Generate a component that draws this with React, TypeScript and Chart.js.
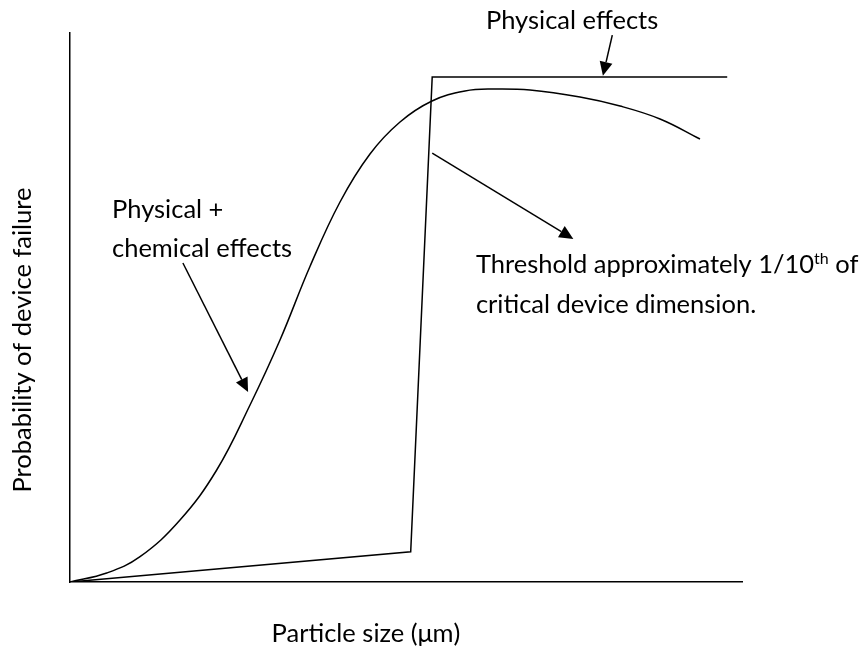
import React, { useEffect, useRef } from "react";
import { Chart, registerables } from "chart.js";

Chart.register(...registerables);

// Threshold (physical effects) curve, arbitrary units (x: particle size, y: probability)
const thresholdX = [0, 50.7, 53.9, 97.8];
const thresholdY = [0, 5.5, 92.0, 92.0];

// Physical + chemical effects curve
const chemX = [0, 5.46, 10.42, 16.37, 21.83, 26.79, 31.25, 35.71, 40.18, 44.64, 49.11, 53.87, 58.78, 62.95, 68.45, 75.89, 81.85, 87.8, 93.75];
const chemY = [0, 1.64, 4.61, 11.29, 20.4, 32.24, 44.08, 57.47, 69.22, 77.96, 83.79, 87.61, 89.44, 89.8, 89.62, 88.34, 86.7, 84.34, 80.69];

// Annotation arrows: [fromX, fromY, toX, toY]
const arrowPhysical = [80.7, 99.6, 79.3, 92.2];
const arrowThreshold = [53.9, 78.1, 74.9, 62.5];
const arrowChemical = [16.8, 58.1, 26.5, 34.6];

// Annotation texts and anchors (left, baseline) in data units
const labelTexts = ["Physical effects", "Physical +", "chemical effects", "critical device dimension."];
const labelX = [61.9, 6.25, 6.25, 60.4];
const labelY = [100.7, 66.3, 59.2, 49.0];
const thresholdLabel = ["Threshold approximately 1/10", "th", " of"];
const thresholdLabelPos = [60.4, 56.3];

const xTitle = "Particle size (μm)";
const yTitle = "Probability of device failure";

const FONT = "Lato, 'Open Sans', sans-serif";
const FS = 25.5;

export default function App() {
  const ref = useRef<HTMLCanvasElement>(null);

  useEffect(() => {
    document.body.style.margin = "0";
    const toPts = (xs: number[], ys: number[]) => xs.map((x, i) => ({ x, y: ys[i] }));

    const annot = {
      id: "annot",
      afterDraw(chart: any) {
        const ctx = chart.ctx;
        const xs = chart.scales.x;
        const ys = chart.scales.y;
        const px = (v: number) => xs.getPixelForValue(v);
        const py = (v: number) => ys.getPixelForValue(v);
        ctx.save();
        ctx.fillStyle = "#000";
        ctx.strokeStyle = "#000";
        ctx.lineWidth = 1.5;
        const arrow = (a: number[]) => {
          const x1 = px(a[0]), y1 = py(a[1]), x2 = px(a[2]), y2 = py(a[3]);
          const ang = Math.atan2(y2 - y1, x2 - x1);
          const L = 14, W = 6.5;
          const bx = x2 - L * Math.cos(ang), by = y2 - L * Math.sin(ang);
          ctx.beginPath();
          ctx.moveTo(x1, y1);
          ctx.lineTo(bx, by);
          ctx.stroke();
          ctx.beginPath();
          ctx.moveTo(x2, y2);
          ctx.lineTo(bx + W * Math.sin(ang), by - W * Math.cos(ang));
          ctx.lineTo(bx - W * Math.sin(ang), by + W * Math.cos(ang));
          ctx.closePath();
          ctx.fill();
        };
        arrow(arrowPhysical);
        arrow(arrowThreshold);
        arrow(arrowChemical);

        ctx.font = `${FS}px ${FONT}`;
        ctx.textAlign = "left";
        ctx.textBaseline = "alphabetic";
        labelTexts.forEach((t, i) => ctx.fillText(t, px(labelX[i]), py(labelY[i])));

        // threshold label with superscript
        let tx = px(thresholdLabelPos[0]);
        const ty = py(thresholdLabelPos[1]);
        ctx.fillText(thresholdLabel[0], tx, ty);
        tx += ctx.measureText(thresholdLabel[0]).width;
        ctx.font = `${Math.round(FS * 0.62)}px ${FONT}`;
        ctx.fillText(thresholdLabel[1], tx, ty - 9);
        tx += ctx.measureText(thresholdLabel[1]).width;
        ctx.font = `${FS}px ${FONT}`;
        ctx.fillText(thresholdLabel[2], tx, ty);

        // axis titles
        ctx.textAlign = "center";
        ctx.fillText(xTitle, 366, 642);
        ctx.translate(31, 340);
        ctx.rotate(-Math.PI / 2);
        ctx.fillText(yTitle, 0, 0);
        ctx.restore();
      },
    };

    const chart = new Chart(ref.current!, {
      type: "line",
      data: {
        datasets: [
          {
            data: toPts(thresholdX, thresholdY),
            borderColor: "#000",
            borderWidth: 1.5,
            pointRadius: 0,
            tension: 0,
            fill: false,
          },
          {
            data: toPts(chemX, chemY),
            borderColor: "#000",
            borderWidth: 1.5,
            pointRadius: 0,
            tension: 0.4,
            fill: false,
          },
        ],
      },
      options: {
        animation: false,
        responsive: true,
        maintainAspectRatio: false,
        layout: { padding: { left: 70, top: 33, right: 121, bottom: 70 } },
        plugins: { legend: { display: false }, tooltip: { enabled: false } },
        scales: {
          x: {
            type: "linear",
            min: 0,
            max: 100,
            grid: { display: false, drawTicks: false },
            ticks: { display: false },
            border: { display: true, color: "#000", width: 1.5 },
          },
          y: {
            type: "linear",
            min: 0,
            max: 100,
            grid: { display: false, drawTicks: false },
            ticks: { display: false },
            border: { display: true, color: "#000", width: 1.5 },
          },
        },
      },
      plugins: [annot],
    });
    return () => chart.destroy();
  }, []);

  return (
    <div style={{ position: "absolute", left: 0, top: 0, width: 863, height: 652, background: "#fff" }}>
      <canvas ref={ref} />
    </div>
  );
}
